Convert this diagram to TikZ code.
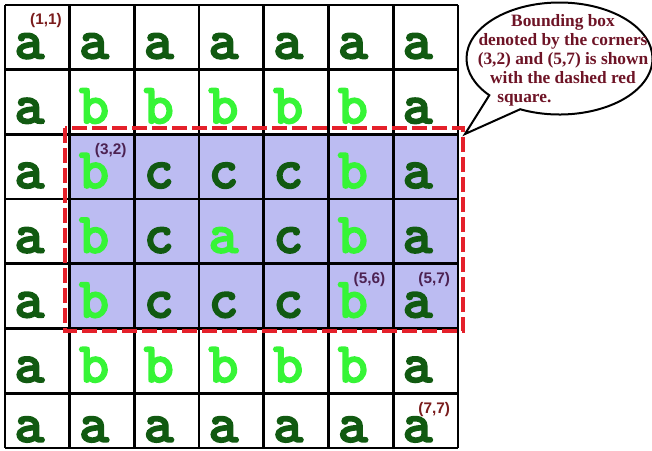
\documentclass[tikz,border=0pt]{standalone}
\usepackage{fontspec}
\newfontfamily\tagfont{Liberation Sans}
\newfontfamily\notefont{Liberation Serif}
\newfontfamily\cellfont{lmmonolt10-bold}[Extension=.otf, FakeBold=2.5]
\usetikzlibrary{shapes.callouts}
\definecolor{gr-dark}{HTML}{115A11}
\definecolor{gr-light}{HTML}{36F536}
\definecolor{bb-fill}{HTML}{BCBCF2}
\definecolor{bb-line}{HTML}{E4202A}
\definecolor{tag-red}{HTML}{7A1C1C}
\definecolor{tag-purple}{HTML}{4C2252}
\definecolor{note-text}{HTML}{6E1426}
\tikzset{letter/.style={anchor=base, inner sep=0pt, font=\fontsize{43}{43}\selectfont\cellfont\bfseries}}
\tikzset{tag/.style={inner sep=0pt, font=\fontsize{11.5}{12}\selectfont\tagfont\bfseries}}

\begin{document}
\begin{tikzpicture}[x=0.75pt, y=-0.75pt]
  \useasboundingbox (0,0) rectangle (652,450);
  \def\cw{64.7}

  % Shaded bounding box region
  \fill[bb-fill] (5+\cw,5+2*\cw) rectangle (5+7*\cw,5+5*\cw);

  % Grid lines
  \foreach \i in {0,...,7}
    \draw[line width=2pt] ({5+\i*\cw},5) -- ({5+\i*\cw},448);
  \foreach \i in {0,...,6}
    \draw[line width=2pt] (5,{5+\i*\cw}) -- ({5+7*\cw},{5+\i*\cw});
  \draw[line width=2pt] (5,448) -- ({5+7*\cw},448);

  % Cell letters
  \foreach \rowlist [count=\r] in {
    {a/dark,a/dark,a/dark,a/dark,a/dark,a/dark,a/dark},
    {a/dark,b/light,b/light,b/light,b/light,b/light,a/dark},
    {a/dark,b/light,c/dark,c/dark,c/dark,b/light,a/dark},
    {a/dark,b/light,c/dark,a/light,c/dark,b/light,a/dark},
    {a/dark,b/light,c/dark,c/dark,c/dark,b/light,a/dark},
    {a/dark,b/light,b/light,b/light,b/light,b/light,a/dark},
    {a/dark,a/dark,a/dark,a/dark,a/dark,a/dark,a/dark}} {
    \foreach \ch/\tone [count=\c] in \rowlist {
      \pgfmathsetmacro\bx{5+(\c-1)*\cw+24.4}
      \pgfmathsetmacro\by{\r==7 ? 442 : 5+\r*\cw-11}
      \node[letter, text=gr-\tone] (l\r\c) at (\bx,\by) {\ch};
    }
  }

  % Corner tags
  \foreach \r/\c/\tone in {1/1/red,3/2/purple,5/6/purple,5/7/purple,7/7/red}
    \node[tag, text=tag-\tone] (t\r\c) at ({5+(\c-1)*\cw+41},{5+(\r-1)*\cw+16}) {(\r,\c)};

  % Dashed red square
  \draw[bb-line, line width=3pt, dash pattern=on 11pt off 4pt] (65,128) rectangle (463,331);

  % Speech bubble
  \coordinate (tip) at (465,134);
  \node[ellipse callout, draw, line width=1.5pt, fill=white, inner sep=0pt,
        minimum width=139.5pt, minimum height=84pt,
        callout absolute pointer={(tip)}, callout pointer arc=24] (bubble) at (559.5,58.5) {};
  \node[text=note-text, align=center, inner sep=0pt,
        font=\fontsize{13}{14.3}\selectfont\notefont\bfseries] (note) at (563,60.5)
    {Bounding box\\ denoted by the corners\\ (3,2) and (5,7) is shown\\
     with the dashed red\hspace*{15pt}\\ square.\hspace*{58pt}};
\end{tikzpicture}
\end{document}
